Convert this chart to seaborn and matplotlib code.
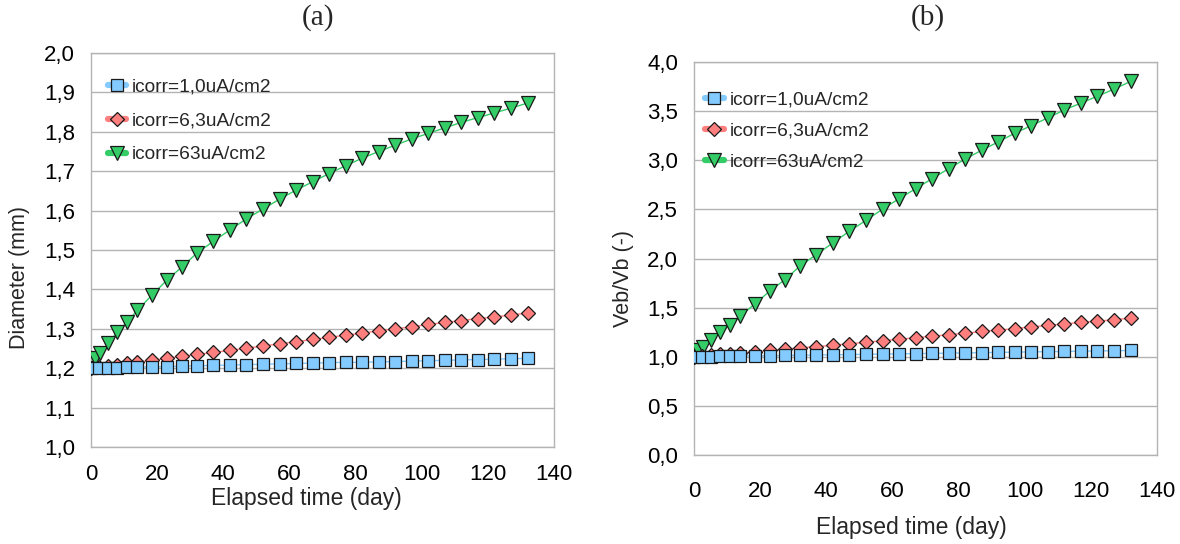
import matplotlib
matplotlib.use("Agg")
import matplotlib.pyplot as plt
import seaborn as sns
from matplotlib.lines import Line2D

# ---------------- data ----------------
time_slow = [0, 2.5, 5, 8, 11, 14, 18.5, 23, 27.5, 32, 37, 42, 47, 52, 57, 62, 67,
             72, 77, 82, 87, 92, 97, 102, 107, 112, 117, 122, 127, 132]
time_fast = [0, 1.2, 2.7, 5.2, 8, 11, 14, 18.5, 23, 27.5, 32, 37, 42, 47, 52, 57, 62,
             67, 72, 77, 82, 87, 92, 97, 102, 107, 112, 117, 122, 127, 132]

labels = ["icorr=1,0uA/cm2", "icorr=6,3uA/cm2", "icorr=63uA/cm2"]

diam_i1 = [1.200, 1.200, 1.201, 1.201, 1.202, 1.203, 1.203, 1.204, 1.205, 1.206,
           1.207, 1.208, 1.209, 1.210, 1.211, 1.212, 1.213, 1.214, 1.215, 1.215,
           1.216, 1.217, 1.218, 1.219, 1.220, 1.221, 1.222, 1.223, 1.224, 1.225]
diam_i6 = [1.200, 1.203, 1.206, 1.209, 1.212, 1.215, 1.220, 1.225, 1.230, 1.235,
           1.240, 1.245, 1.251, 1.256, 1.262, 1.267, 1.273, 1.278, 1.284, 1.289,
           1.295, 1.300, 1.305, 1.311, 1.316, 1.321, 1.326, 1.330, 1.335, 1.340]
diam_i63 = [1.200, 1.225, 1.238, 1.263, 1.292, 1.318, 1.347, 1.386, 1.424, 1.457,
            1.492, 1.522, 1.551, 1.579, 1.604, 1.629, 1.652, 1.673, 1.694, 1.714,
            1.733, 1.750, 1.766, 1.782, 1.796, 1.810, 1.824, 1.836, 1.848, 1.860, 1.873]

vol_i1 = [1.000, 1.001, 1.002, 1.004, 1.005, 1.007, 1.009, 1.011, 1.013, 1.015,
          1.018, 1.020, 1.022, 1.025, 1.027, 1.030, 1.032, 1.034, 1.037, 1.039,
          1.042, 1.044, 1.047, 1.049, 1.052, 1.054, 1.057, 1.059, 1.061, 1.064]
vol_i6 = [1.000, 1.008, 1.015, 1.023, 1.030, 1.038, 1.051, 1.064, 1.077, 1.090,
          1.103, 1.117, 1.133, 1.147, 1.163, 1.177, 1.194, 1.208, 1.225, 1.239,
          1.257, 1.271, 1.286, 1.304, 1.319, 1.334, 1.349, 1.362, 1.377, 1.393]
vol_i63 = [1.000, 1.069, 1.102, 1.170, 1.251, 1.325, 1.414, 1.541, 1.671, 1.785,
           1.922, 2.040, 2.159, 2.278, 2.388, 2.502, 2.609, 2.710, 2.813, 2.914,
           3.012, 3.102, 3.187, 3.275, 3.353, 3.432, 3.512, 3.582, 3.652, 3.724, 3.802]

x_ticks = [0, 20, 40, 60, 80, 100, 120, 140]
ya_ticks = [1.0, 1.1, 1.2, 1.3, 1.4, 1.5, 1.6, 1.7, 1.8, 1.9, 2.0]
ya_labels = ["1,0", "1,1", "1,2", "1,3", "1,4", "1,5", "1,6", "1,7", "1,8", "1,9", "2,0"]
yb_ticks = [0.0, 0.5, 1.0, 1.5, 2.0, 2.5, 3.0, 3.5, 4.0]
yb_labels = ["0,0", "0,5", "1,0", "1,5", "2,0", "2,5", "3,0", "3,5", "4,0"]

# ---------------- style ----------------
sns.set_style("white")
plt.rcParams["font.family"] = ["Liberation Sans", "DejaVu Sans"]

blue = "#83caff"
red = "#ff7f7f"
green = "#33cc66"
gridc = "#b3b3b3"

fig = plt.figure(figsize=(11.8, 5.44), dpi=100)
axA = fig.add_axes([91 / 1180, 1 - 447 / 544, 463 / 1180, 394 / 544])
axB = fig.add_axes([694 / 1180, 1 - 455 / 544, 463 / 1180, 393 / 544])

series_style = [
    (blue, "s", 8.5),
    (red, "D", 7.2),
    (green, "v", 10.5),
]


def draw(ax, ys, times, yticks, ylabels, ylim, ylabel, leg_xy, leg_space,
         xlab_pos, ylab_pos, xpad):
    order = [2, 1, 0]
    for i in order:
        col, mk, ms = series_style[i]
        sns.lineplot(x=times[i], y=ys[i], ax=ax, color=col, linewidth=1.0,
                     marker=mk, markersize=ms, markerfacecolor=col,
                     markeredgecolor="#1a1a1a", markeredgewidth=0.9,
                     zorder=3 + (2 - i), legend=False, errorbar=None, sort=False)
    ax.set_xlim(0, 140)
    ax.set_ylim(*ylim)
    ax.set_xticks(x_ticks)
    ax.set_xticklabels([str(v) for v in x_ticks])
    ax.set_yticks(yticks)
    ax.set_yticklabels(ylabels)
    ax.grid(axis="y", color=gridc, linewidth=1.0)
    ax.grid(axis="x", visible=False)
    for s in ax.spines.values():
        s.set_color(gridc)
        s.set_linewidth(1.0)
        s.set_visible(True)
    ax.tick_params(axis="both", direction="out", length=6.5, width=1.0,
                   color=gridc, labelsize=16, labelcolor="black", pad=5)
    ax.tick_params(axis="x", pad=xpad)
    ax.set_xlabel("Elapsed time (day)", fontsize=16.5)
    ax.set_ylabel(ylabel, fontsize=15.5)
    ax.xaxis.set_label_coords(*xlab_pos)
    ax.yaxis.set_label_coords(*ylab_pos)
    handles = []
    for i in range(3):
        col, mk, ms = series_style[i]
        handles.append(Line2D([0], [0], color=col, linewidth=4.5, marker=mk,
                              markersize=ms * 0.95, markerfacecolor=col,
                              markeredgecolor="#1a1a1a", markeredgewidth=0.9))
    ax.legend(handles, labels, loc="upper left", bbox_to_anchor=leg_xy,
              frameon=False, fontsize=13.8, handlelength=0.95, handletextpad=0.3,
              labelspacing=leg_space, borderaxespad=0)


draw(axA, [diam_i1, diam_i6, diam_i63], [time_slow, time_slow, time_fast],
     ya_ticks, ya_labels, (1.0, 2.0), "Diameter (mm)", (0.02, 0.955), 0.85,
     (0.466, -0.102), (-0.132, 0.43), 6)
draw(axB, [vol_i1, vol_i6, vol_i63], [time_slow, time_slow, time_fast],
     yb_ticks, yb_labels, (0.0, 4.0), "Veb/Vb (-)", (0.008, 0.945), 0.72,
     (0.469, -0.155), (-0.129, 0.45), 12)

fig.text(318 / 1180, 1 - 18 / 544, "(a)", fontsize=21, family="Liberation Serif",
         ha="center", va="center")
fig.text(928 / 1180, 1 - 18 / 544, "(b)", fontsize=21, family="Liberation Serif",
         ha="center", va="center")

fig.savefig("out.png", dpi=100)
